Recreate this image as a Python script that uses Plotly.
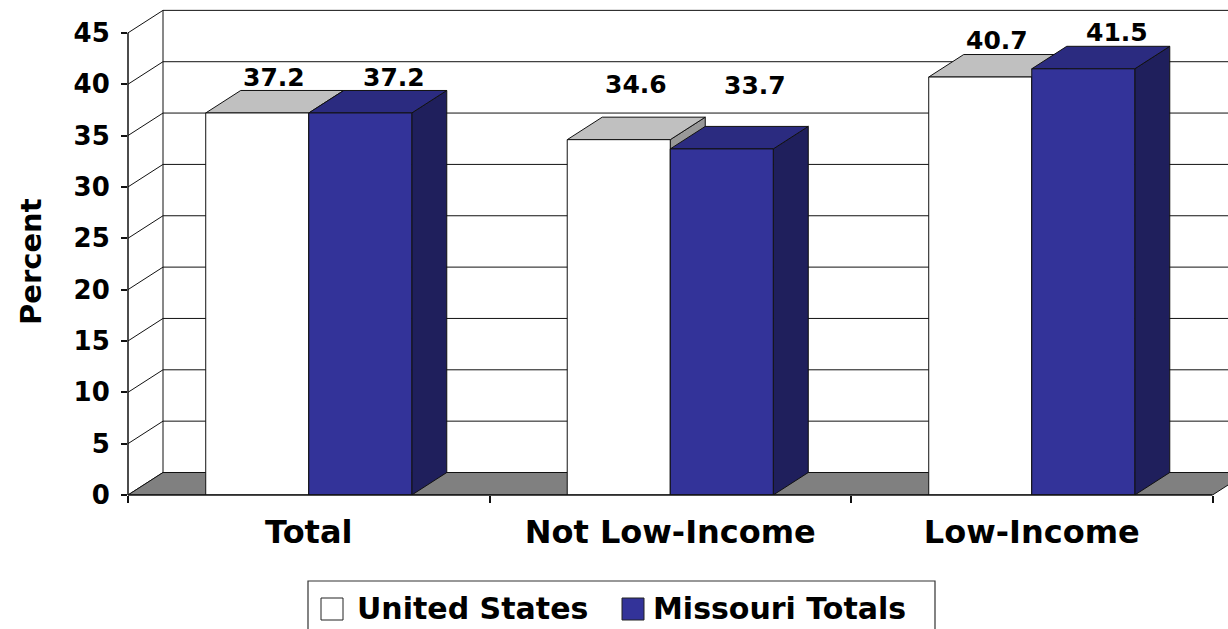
import plotly.graph_objects as go

# ---------------- data ----------------
categories = ["Total", "Not Low-Income", "Low-Income"]
series_names = ["United States", "Missouri Totals"]
us_values = [37.2, 34.6, 40.7]
mo_values = [37.2, 33.7, 41.5]
y_ticks = [0, 5, 10, 15, 20, 25, 30, 35, 40, 45]
y_title = "Percent"

# ---------------- style ----------------
W, H = 1228, 629
ML, MB = 128, 134
PLOT_W, PLOT_H = W - ML, H - MB
PX_PER_CAT = 361.5
Y_MAX = 48.2
X_MIN = -0.5
X_MAX = X_MIN + PLOT_W / PX_PER_CAT
DX = 35 / PX_PER_CAT
DY = 22.5 * Y_MAX / PLOT_H
BAR_W = 0.285
FONT = "DejaVu Sans"
LINE = "#111111"

front_colors = ["#ffffff", "#333399"]
top_colors = ["#c0c0c0", "#2b2b80"]
side_colors = ["#999999", "#1f1f5c"]
label_dx = [-0.095, 0.235]
label_dy = [[3.5, 3.5], [5.4, 6.2], [3.6, 3.5]]

fig = go.Figure()
shapes = []

def poly(xs, ys, fill, width=1):
    fig.add_trace(go.Scatter(
        x=xs + [xs[0]], y=ys + [ys[0]], mode="lines", fill="toself",
        fillcolor=fill, line=dict(color=LINE, width=width),
        hoverinfo="skip", showlegend=False))

# ---- walls (back wall + left wall gridlines) ----
x_back = X_MIN + DX
x_end = 2.5 + DX
top = y_ticks[-1]
for v in y_ticks:
    shapes.append(dict(type="line", xref="x", yref="y", x0=X_MIN, y0=v,
                       x1=x_back, y1=v + DY, line=dict(color=LINE, width=1), layer="below"))
    if v > 0:
        shapes.append(dict(type="line", xref="x", yref="y", x0=x_back, y0=v + DY,
                           x1=x_end, y1=v + DY, line=dict(color=LINE, width=1), layer="below"))
shapes.append(dict(type="line", xref="x", yref="y", x0=x_back, y0=DY, x1=x_back,
                   y1=top + DY, line=dict(color=LINE, width=1), layer="below"))

# ---- floor ----
poly([X_MIN, 2.5, 2.5 + DX, X_MIN + DX], [0, 0, DY, DY], "#808080")

# ---- bars ----
for i, cat in enumerate(categories):
    for s, vals in enumerate([us_values, mo_values]):
        h = vals[i]
        x0 = i - BAR_W if s == 0 else i
        x1 = x0 + BAR_W
        poly([x1, x1 + DX, x1 + DX, x1], [0, DY, h + DY, h], side_colors[s])
        poly([x0, x1, x1 + DX, x0 + DX], [h, h, h + DY, h + DY], top_colors[s])
        poly([x0, x1, x1, x0], [0, 0, h, h], front_colors[s])

# ---- data labels ----
annotations = []
for i in range(len(categories)):
    for s, vals in enumerate([us_values, mo_values]):
        annotations.append(dict(
            x=i + label_dx[s], y=vals[i] + label_dy[i][s], xref="x", yref="y",
            text=f"{vals[i]:.1f}", showarrow=False, xanchor="center", yanchor="middle",
            font=dict(family=FONT, size=25, color="black", weight="bold")))

# ---- axis lines ----
shapes.append(dict(type="line", xref="paper", yref="y", x0=0, x1=0, y0=0, y1=top,
                   line=dict(color=LINE, width=1.5), layer="above"))
shapes.append(dict(type="line", xref="x", yref="paper", x0=X_MIN, x1=2.5, y0=0, y1=0,
                   line=dict(color=LINE, width=1.5), layer="above"))

# ---- y title ----
def px_x(px):
    return (px - ML) / PLOT_W

def px_y(py):
    return (PLOT_H - py) / PLOT_H

annotations.append(dict(x=px_x(31), y=px_y(262), xref="paper", yref="paper",
                        text=y_title, textangle=-90, showarrow=False,
                        xanchor="center", yanchor="middle",
                        font=dict(family=FONT, size=29, color="black", weight="bold")))

# ---- legend (manual) ----
shapes.append(dict(type="rect", xref="paper", yref="paper", x0=px_x(308), x1=px_x(935),
                   y0=px_y(581), y1=px_y(640), line=dict(color="#333333", width=1.2),
                   fillcolor="white", layer="above"))
legend_items = [(321, 355), (622, 651)]
for s, (sq_x, tx) in enumerate(legend_items):
    shapes.append(dict(type="rect", xref="paper", yref="paper", x0=px_x(sq_x), x1=px_x(sq_x + 22),
                       y0=px_y(598), y1=px_y(620), line=dict(color="#222222", width=1),
                       fillcolor=front_colors[s], layer="above"))
    annotations.append(dict(x=px_x(tx), y=px_y(608), xref="paper", yref="paper",
                            text=series_names[s], showarrow=False,
                            xanchor="left", yanchor="middle",
                            font=dict(family=FONT, size=30, color="black", weight="bold")))

fig.update_layout(
    width=W, height=H,
    margin=dict(l=ML, r=0, t=0, b=MB, pad=0),
    plot_bgcolor="white", paper_bgcolor="white",
    showlegend=False,
    shapes=shapes, annotations=annotations,
    xaxis=dict(range=[X_MIN, X_MAX], tickmode="array", tickvals=list(range(len(categories))),
               ticktext=categories, ticks="", showgrid=False, zeroline=False, showline=False,
               ticklabelstandoff=15,
               tickfont=dict(family=FONT, size=32, color="black", weight="bold"),
               minor=dict(tickmode="array", tickvals=[-0.5, 0.5, 1.5, 2.5], ticks="outside",
                          ticklen=7, tickcolor=LINE, tickwidth=1.5, showgrid=False),
               fixedrange=True),
    yaxis=dict(range=[0, Y_MAX], tickmode="array", tickvals=y_ticks, ticks="outside",
               ticklen=6, tickcolor=LINE, tickwidth=1.5, showgrid=False, zeroline=False,
               showline=False, ticklabelstandoff=6,
               tickfont=dict(family=FONT, size=26, color="black", weight="bold"),
               fixedrange=True),
)

fig.write_html("out.html", config={"displayModeBar": False},
               post_script="document.body.style.margin='0';")
